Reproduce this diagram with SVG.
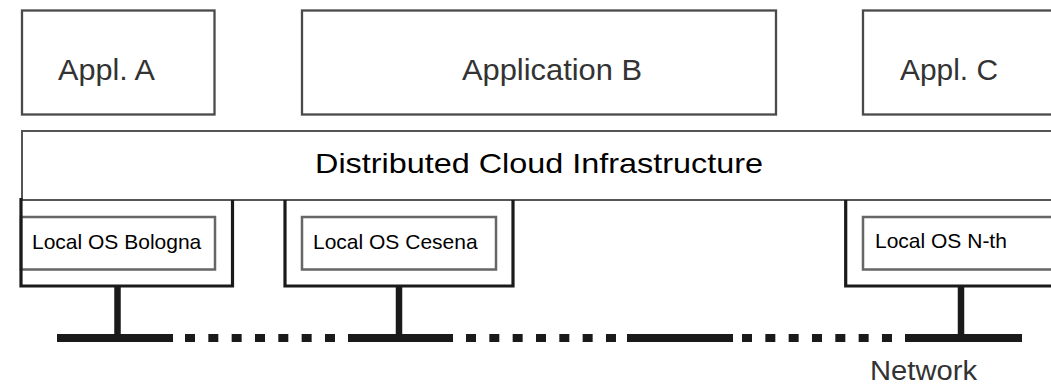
<svg xmlns="http://www.w3.org/2000/svg" width="1051" height="385" viewBox="0 0 1051 385">
  <style>
    .app { fill: #fff; stroke: #4a4a4a; stroke-width: 2.3; }
    .apptxt { font-family: "Liberation Sans", Arial, sans-serif; font-size: 30px; fill: #333; }
    .infra { fill: #fff; stroke: #555; stroke-width: 2; }
    .infratxt { font-family: "Liberation Sans", Arial, sans-serif; font-size: 28px; fill: #000; }
    .outer { fill: none; stroke: #1a1a1a; stroke-width: 3.2; }
    .inner { fill: #fff; stroke: #666; stroke-width: 2.5; }
    .ostxt { font-family: "Liberation Sans", Arial, sans-serif; font-size: 21px; fill: #000; }
    .net { stroke: #1a1a1a; stroke-width: 8; fill: none; }
    .dash { stroke: #1a1a1a; stroke-width: 8; fill: none; stroke-dasharray: 10 13.33; }
    .stem { stroke: #1a1a1a; stroke-width: 6.5; fill: none; }
    .nettxt { font-family: "Liberation Sans", Arial, sans-serif; font-size: 27px; fill: #333; }
  </style>
  <rect width="1051" height="385" fill="#fff"/>

  <g id="appl-a">
    <rect class="app" x="22" y="10.5" width="192.5" height="104"/>
    <text class="apptxt" x="58" y="80" textLength="97" lengthAdjust="spacingAndGlyphs">Appl. A</text>
  </g>
  <g id="application-b">
    <rect class="app" x="302" y="10.5" width="474" height="104"/>
    <text class="apptxt" x="462" y="80" textLength="180" lengthAdjust="spacingAndGlyphs">Application B</text>
  </g>
  <g id="appl-c">
    <rect class="app" x="863" y="10.5" width="200" height="104"/>
    <text class="apptxt" x="900" y="80" textLength="98" lengthAdjust="spacingAndGlyphs">Appl. C</text>
  </g>

  <g id="infrastructure">
    <rect class="infra" x="22" y="131" width="1040" height="69"/>
    <text class="infratxt" x="315" y="173" textLength="448" lengthAdjust="spacingAndGlyphs">Distributed Cloud Infrastructure</text>
  </g>

  <g id="os-bologna">
    <rect class="inner" x="21" y="217" width="194" height="52.5"/>
    <polyline class="outer" points="21,198 21,286 232.5,286 232.5,200"/>
    <text class="ostxt" x="32" y="249">Local OS Bologna</text>
  </g>
  <g id="os-cesena">
    <rect class="inner" x="302" y="217" width="194" height="52.5"/>
    <polyline class="outer" points="285,200 285,286 513,286 513,200"/>
    <text class="ostxt" x="313" y="249">Local OS Cesena</text>
  </g>
  <g id="os-nth">
    <rect class="inner" x="863" y="217" width="200" height="52.5"/>
    <polyline class="outer" points="845.7,200 845.7,286 1060,286"/>
    <text class="ostxt" x="875" y="248">Local OS N-th</text>
  </g>

  <g id="connectors">
    <line class="stem" x1="117.5" y1="286" x2="117.5" y2="336"/>
    <line class="stem" x1="399" y1="286" x2="399" y2="336"/>
    <line class="stem" x1="961" y1="286" x2="961" y2="336"/>
    <line class="net" x1="57" y1="338" x2="173" y2="338"/>
    <line class="dash" x1="185" y1="338" x2="345" y2="338"/>
    <line class="net" x1="348" y1="338" x2="453" y2="338"/>
    <line class="dash" x1="466" y1="338" x2="618" y2="338"/>
    <line class="net" x1="627" y1="338" x2="733" y2="338"/>
    <line class="dash" x1="742" y1="338" x2="894" y2="338"/>
    <line class="net" x1="905" y1="338" x2="1022" y2="338"/>
  </g>

  <g id="network-label">
    <text class="nettxt" x="870" y="380" textLength="107" lengthAdjust="spacingAndGlyphs">Network</text>
  </g>
</svg>
